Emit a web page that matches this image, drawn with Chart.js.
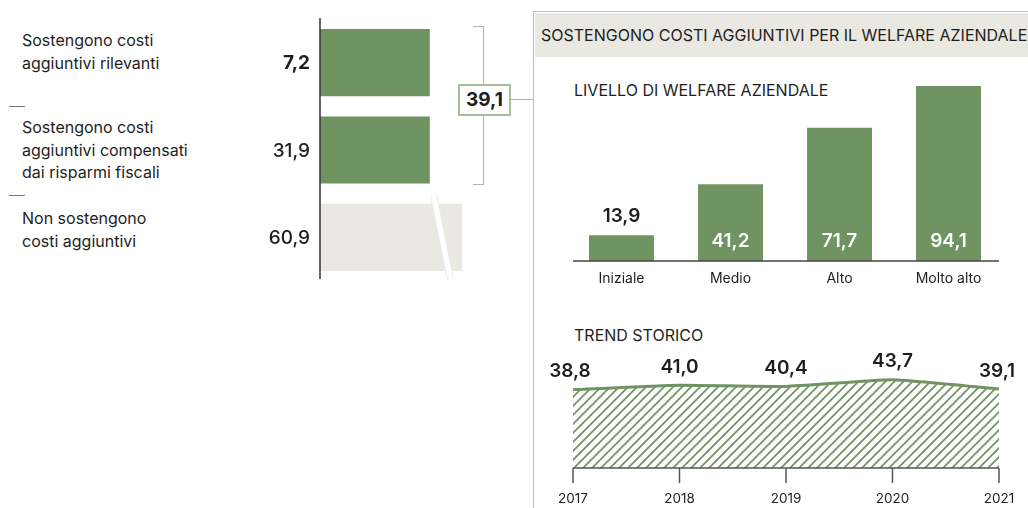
<!DOCTYPE html>
<html>
<head>
<meta charset="utf-8">
<script src="https://cdn.jsdelivr.net/npm/chart.js@4/dist/chart.umd.min.js"></script>
<style>
  body { margin: 0; width: 1028px; height: 508px; position: relative; overflow: hidden; background: #fff; font-family: Inter, sans-serif; color: #1e1e1e; }
  .abs { position: absolute; }
  .lbl { left: 22px; font-size: 16px; line-height: 22.5px; white-space: nowrap; }
  .dash { left: 9px; width: 16px; height: 0; border-top: 1.5px solid #777; }
  .sage { border-color: #a9bf9b !important; }
  .title { font-size: 16px; line-height: 20px; white-space: nowrap; }
</style>
</head>
<body>

<!-- left labels -->
<div class="abs lbl" style="top:29px">Sostengono costi<br>aggiuntivi rilevanti</div>
<div class="abs dash" style="top:106px"></div>
<div class="abs lbl" style="top:116px">Sostengono costi<br>aggiuntivi compensati<br>dai risparmi fiscali</div>
<div class="abs dash" style="top:195px"></div>
<div class="abs lbl" style="top:207px">Non sostengono<br>costi aggiuntivi</div>

<div class="abs" style="left:250px;top:0;width:250px;height:300px"><canvas id="leftChart"></canvas></div>

<!-- bracket + total -->
<div class="abs sage" style="left:483px;top:27px;height:158px;border-left:1.5px solid"></div>
<div class="abs sage" style="left:473px;top:26px;width:11px;border-top:1.5px solid"></div>
<div class="abs sage" style="left:473px;top:184px;width:11px;border-top:1.5px solid"></div>
<div class="abs sage" style="left:511px;top:99px;width:22px;border-top:1.5px solid"></div>
<div class="abs sage" id="totalBox" style="left:458px;top:84px;width:49px;height:28px;border:2px solid;background:#fff;text-align:center;font-weight:700;font-size:19px;line-height:28px"></div>

<!-- right panel -->
<div class="abs" style="left:533px;top:11px;width:495px;height:497px;border-left:1.5px solid #b7c8aa;border-top:1.5px solid #b7c8aa"></div>
<div class="abs" style="left:534.5px;top:12.5px;width:494px;height:44.5px;background:#e9e8e1"></div>
<div class="abs title" style="left:541px;top:25px">SOSTENGONO COSTI AGGIUNTIVI PER IL WELFARE AZIENDALE</div>
<div class="abs title" style="left:574px;top:80px">LIVELLO DI WELFARE AZIENDALE</div>
<div class="abs title" style="left:574px;top:325px">TREND STORICO</div>

<div class="abs" style="left:540px;top:60px;width:488px;height:230px"><canvas id="levelChart"></canvas></div>
<div class="abs" style="left:540px;top:340px;width:488px;height:168px"><canvas id="trendChart"></canvas></div>

<script>
// left: share of companies
var shareLabels = ["Sostengono costi aggiuntivi rilevanti", "Sostengono costi aggiuntivi compensati dai risparmi fiscali", "Non sostengono costi aggiuntivi"];
var shareValues = [7.2, 31.9, 60.9];
// bar lengths as they are drawn in the picture (not proportional, last one broken)
var shareBarLength = [30.5, 30.5, 39.5];
var shareTotal = 39.1;

// top right: by welfare level
var levelLabels = ["Iniziale", "Medio", "Alto", "Molto alto"];
var levelValues = [13.9, 41.2, 71.7, 94.1];

// bottom right: trend
var trendYears = ["2017", "2018", "2019", "2020", "2021"];
var trendValues = [38.8, 41.0, 40.4, 43.7, 39.1];

var GREEN = "#6f9461";
var DARK = "#1e1e1e";
var FONT = "Inter, sans-serif";

function fmt(v) {
  return v.toFixed(1).replace(".", ",");
}

document.getElementById("totalBox").textContent = fmt(shareTotal);

window.onload = function () {
  //LEFT BARS
  var leftDecor = {
    id: "leftDecor",
    afterDatasetsDraw: function (chart) {
      var c = chart.ctx;
      var area = chart.chartArea;
      var xs = chart.scales.x;
      var bars = chart.getDatasetMeta(0).data;
      var x0 = xs.getPixelForValue(0);
      c.save();
      // break mark on the long grey bar
      var b = bars[2];
      var top = b.y - b.height / 2 - 8;
      var bot = b.y + b.height / 2 + 8;
      c.lineCap = "butt";
      c.strokeStyle = "#ededE8";
      c.lineWidth = 7;
      c.beginPath();
      c.moveTo(xs.getPixelForValue(31.6), top);
      c.lineTo(xs.getPixelForValue(36.2), bot);
      c.stroke();
      c.strokeStyle = "#ffffff";
      c.lineWidth = 5;
      c.stroke();
      // axis line
      c.strokeStyle = "#333";
      c.lineWidth = 1.5;
      c.beginPath();
      c.moveTo(x0, area.top - 1);
      c.lineTo(x0, area.bottom - 2);
      c.stroke();
      // values
      c.fillStyle = DARK;
      c.textAlign = "right";
      c.textBaseline = "middle";
      bars.forEach(function (bar, i) {
        c.font = (i == 0 ? "700 " : "500 ") + "19px " + FONT;
        c.fillText(fmt(shareValues[i]), x0 - 10, bar.y + 1);
      });
      c.restore();
    },
  };

  new Chart(document.getElementById("leftChart"), {
    type: "bar",
    data: {
      labels: shareLabels,
      datasets: [
        {
          data: shareBarLength,
          backgroundColor: [GREEN, GREEN, "#e9e8e1"],
          borderWidth: 0,
          barPercentage: 0.77,
          categoryPercentage: 1,
        },
      ],
    },
    options: {
      indexAxis: "y",
      responsive: true,
      maintainAspectRatio: false,
      animation: false,
      layout: { padding: { left: 70, right: 0, top: 19, bottom: 19 } },
      plugins: { legend: { display: false }, tooltip: { enabled: false } },
      scales: {
        x: { display: false, min: 0, max: 50 },
        y: { display: false },
      },
    },
    plugins: [leftDecor],
  });

  //LEVEL BARS
  var levelDecor = {
    id: "levelDecor",
    afterDatasetsDraw: function (chart) {
      var c = chart.ctx;
      var area = chart.chartArea;
      var base = chart.scales.y.getPixelForValue(0);
      var bars = chart.getDatasetMeta(0).data;
      c.save();
      c.strokeStyle = "#444";
      c.lineWidth = 1.5;
      c.beginPath();
      c.moveTo(area.left + 6, base);
      c.lineTo(area.right - 4, base);
      c.stroke();
      c.textAlign = "center";
      c.textBaseline = "middle";
      bars.forEach(function (bar, i) {
        c.font = "600 19px " + FONT;
        if (levelValues[i] < 20) {
          c.fillStyle = DARK;
          c.fillText(fmt(levelValues[i]), bar.x, bar.y - 19);
        } else {
          c.fillStyle = "#ffffff";
          c.fillText(fmt(levelValues[i]), bar.x, base - 20);
        }
        c.fillStyle = DARK;
        c.font = "14px " + FONT;
        c.fillText(levelLabels[i], bar.x, base + 18);
      });
      c.restore();
    },
  };

  new Chart(document.getElementById("levelChart"), {
    type: "bar",
    data: {
      labels: levelLabels,
      datasets: [
        {
          data: levelValues,
          backgroundColor: GREEN,
          borderWidth: 0,
          barPercentage: 0.596,
          categoryPercentage: 1,
        },
      ],
    },
    options: {
      responsive: true,
      maintainAspectRatio: false,
      animation: false,
      layout: { padding: { left: 27, right: 25, top: 15, bottom: 29 } },
      plugins: { legend: { display: false }, tooltip: { enabled: false } },
      scales: {
        x: { display: false },
        y: { display: false, min: 0, max: 100 },
      },
    },
    plugins: [levelDecor],
  });

  //TREND AREA
  var tile = document.createElement("canvas");
  tile.width = 9;
  tile.height = 9;
  var t = tile.getContext("2d");
  t.strokeStyle = GREEN;
  t.lineWidth = 1.7;
  t.beginPath();
  t.moveTo(0, 9);
  t.lineTo(9, 0);
  t.moveTo(-1, 1);
  t.lineTo(1, -1);
  t.moveTo(8, 10);
  t.lineTo(10, 8);
  t.stroke();

  var trendDecor = {
    id: "trendDecor",
    afterDatasetsDraw: function (chart) {
      var c = chart.ctx;
      var area = chart.chartArea;
      var base = chart.scales.y.getPixelForValue(0);
      var pts = chart.getDatasetMeta(0).data;
      c.save();
      c.strokeStyle = "#555";
      c.lineWidth = 1.5;
      c.beginPath();
      c.moveTo(area.left, base);
      c.lineTo(area.right, base);
      pts.forEach(function (p) {
        c.moveTo(p.x, base);
        c.lineTo(p.x, base + 15);
      });
      c.stroke();
      c.textAlign = "center";
      c.textBaseline = "middle";
      pts.forEach(function (p, i) {
        c.fillStyle = DARK;
        c.font = "13.5px " + FONT;
        c.fillText(trendYears[i], p.x, base + 31);
        c.font = "600 19px " + FONT;
        c.fillText(fmt(trendValues[i]), p.x - (i == 0 ? 3 : 0) - (i == 4 ? 2 : 0), p.y - 18);
      });
      c.restore();
    },
  };

  new Chart(document.getElementById("trendChart"), {
    type: "line",
    data: {
      labels: trendYears,
      datasets: [
        {
          data: trendValues,
          borderColor: GREEN,
          borderWidth: 3,
          pointRadius: 0,
          tension: 0.15,
          fill: "origin",
          backgroundColor: t.createPattern(tile, "repeat"),
        },
      ],
    },
    options: {
      responsive: true,
      maintainAspectRatio: false,
      animation: false,
      layout: { padding: { left: 33, right: 29, top: 27, bottom: 40 } },
      plugins: { legend: { display: false }, tooltip: { enabled: false } },
      scales: {
        x: { display: false },
        y: { display: false, min: 0, max: 50 },
      },
    },
    plugins: [trendDecor],
  });
};
</script>
</body>
</html>
